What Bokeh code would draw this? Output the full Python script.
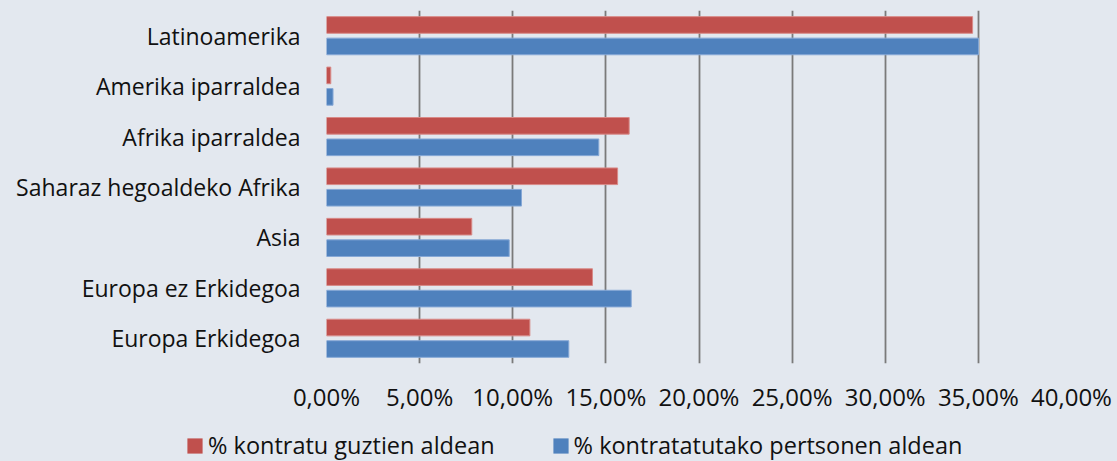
from bokeh.plotting import figure
from bokeh.models import FactorRange, ColumnDataSource, Legend, LegendItem, FixedTicker
from bokeh.transform import dodge
from bokeh.layouts import column
from bokeh.embed import file_html
from bokeh.resources import INLINE

categories = ["Latinoamerika", "Amerika iparraldea", "Afrika iparraldea",
              "Saharaz hegoaldeko Afrika", "Asia", "Europa ez Erkidegoa",
              "Europa Erkidegoa"]
kontratu = [34.69, 0.23, 16.25, 15.63, 7.80, 14.28, 10.92]
pertsonen = [35.01, 0.35, 14.62, 10.47, 9.81, 16.36, 13.01]
series_names = ["% kontratu guztien aldean", "% kontratatutako pertsonen aldean"]
tick_values = [0, 5, 10, 15, 20, 25, 30, 35, 40]
tick_labels = ["0,00%", "5,00%", "10,00%", "15,00%", "20,00%", "25,00%",
               "30,00%", "35,00%", "40,00%"]

BG = "#E3E8EF"
RED = "#C0504D"
BLUE = "#4F81BD"
RED_EDGE = "#D88A88"
BLUE_EDGE = "#86A8D6"
FONT = "Open Sans"
TXT = "#111111"

src = ColumnDataSource(dict(cat=categories, red=kontratu, blue=pertsonen))

p = figure(width=1117, height=430, output_backend="svg", toolbar_location=None,
           y_range=FactorRange(factors=list(reversed(categories)), range_padding=0),
           x_range=(0, 40),
           min_border_left=326, min_border_right=46, min_border_top=10,
           min_border_bottom=67)
p.frame_align = False
p.background_fill_color = BG
p.border_fill_color = BG
p.outline_line_color = None

p.hbar(y=dodge("cat", 0.213, range=p.y_range), right="red", height=0.33,
       source=src, fill_color=RED, line_color=RED_EDGE, line_width=1)
p.hbar(y=dodge("cat", -0.213, range=p.y_range), right="blue", height=0.33,
       source=src, fill_color=BLUE, line_color=BLUE_EDGE, line_width=1)

p.xaxis.ticker = FixedTicker(ticks=tick_values)
p.xaxis.major_label_overrides = {v: l for v, l in zip(tick_values, tick_labels)}
for ax in (p.xaxis[0], p.yaxis[0]):
    ax.axis_line_color = None
    ax.major_tick_line_color = None
    ax.minor_tick_line_color = None
    ax.major_tick_in = 0
    ax.major_tick_out = 0
    ax.major_label_text_font = FONT
    ax.major_label_text_color = TXT
p.yaxis.major_label_text_font_size = "23px"
p.xaxis.major_label_text_font_size = "24px"
p.yaxis.major_label_standoff = 26
p.xaxis.major_label_standoff = 16

p.xgrid.ticker = FixedTicker(ticks=tick_values)
p.xgrid.grid_line_color = "#7A7A7A"
p.xgrid.grid_line_width = 1.8
p.ygrid.grid_line_color = None

# legend strip
lg = figure(width=1117, height=31, output_backend="svg", toolbar_location=None,
            y_range=FactorRange(factors=list(reversed(categories))),
            x_range=(0, 40),
            x_axis_location=None, y_axis_location=None,
            min_border=0)
lg.frame_align = False
lg.background_fill_color = BG
lg.border_fill_color = BG
lg.outline_line_color = None
lg.grid.visible = False
k1 = lg.hbar(y="cat", right="red", height=0.3, source=src,
             fill_color=RED, line_color=None, visible=False)
k2 = lg.hbar(y="cat", right="blue", height=0.3, source=src,
             fill_color=BLUE, line_color=None, visible=False)
legend = Legend(items=[LegendItem(label=series_names[0], renderers=[k1]),
                       LegendItem(label=series_names[1], renderers=[k2])],
                orientation="horizontal", location=(185, 0),
                background_fill_alpha=0, border_line_color=None,
                inactive_fill_alpha=0,
                padding=0, margin=0, spacing=56, label_standoff=4,
                glyph_width=19, glyph_height=19,
                label_text_font=FONT, label_text_font_size="23.5px",
                label_text_color=TXT)
lg.add_layout(legend)

layout = column(p, lg, spacing=0)
html = file_html(layout, INLINE)
html = html.replace("<body>", '<body style="background-color:%s;">' % BG)
open("out.html", "w").write(html)
